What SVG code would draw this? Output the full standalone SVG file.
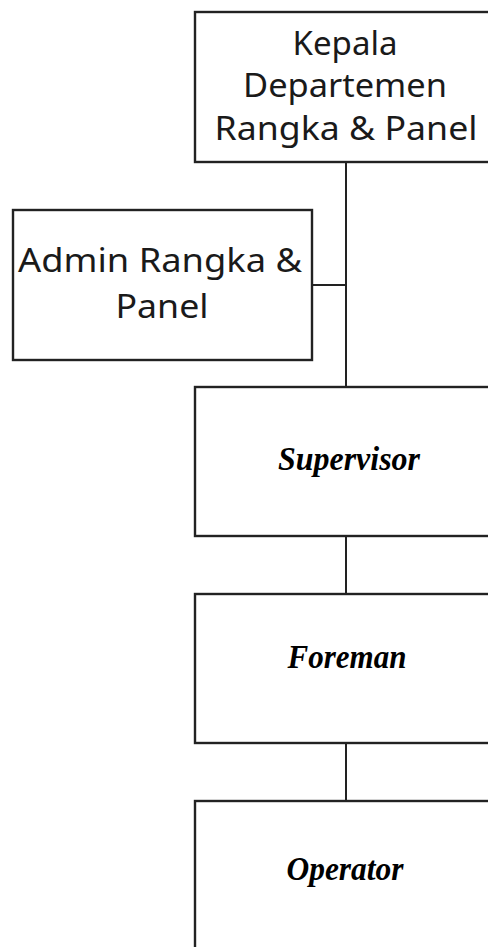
<svg xmlns="http://www.w3.org/2000/svg" width="488" height="947" viewBox="0 0 488 947">
  <style>
    .box { fill: #ffffff; stroke: #222222; stroke-width: 2.4; }
    .link { fill: none; stroke: #222222; stroke-width: 2; }
    .sans { font-family: "Noto Sans", "Open Sans", sans-serif; font-size: 33px; fill: #1a1a1a; text-anchor: middle; }
    .role { font-family: "Liberation Serif", serif; font-size: 33px; font-weight: bold; font-style: italic; fill: #000000; text-anchor: middle; }
  </style>
  <rect width="488" height="947" fill="#ffffff"/>

  <!-- connectors -->
  <g id="connectors">
    <line class="link" x1="346" y1="162" x2="346" y2="387"/>
    <line class="link" x1="312" y1="285" x2="346" y2="285"/>
    <line class="link" x1="346" y1="536" x2="346" y2="594"/>
    <line class="link" x1="346" y1="743" x2="346" y2="801"/>
  </g>

  <!-- head of department -->
  <g id="kepala">
    <rect class="box" x="195" y="12" width="320" height="150"/>
    <text class="sans" x="345" y="55" textLength="105" lengthAdjust="spacingAndGlyphs">Kepala</text>
    <text class="sans" x="345" y="97" textLength="204" lengthAdjust="spacingAndGlyphs">Departemen</text>
    <text class="sans" x="346" y="140" textLength="263" lengthAdjust="spacingAndGlyphs">Rangka &amp; Panel</text>
  </g>

  <!-- admin -->
  <g id="admin">
    <rect class="box" x="13" y="210" width="299" height="150"/>
    <text class="sans" x="160" y="272" textLength="284" lengthAdjust="spacingAndGlyphs">Admin Rangka &amp;</text>
    <text class="sans" x="162" y="318" textLength="93" lengthAdjust="spacingAndGlyphs">Panel</text>
  </g>

  <!-- supervisor -->
  <g id="supervisor">
    <rect class="box" x="195" y="387" width="320" height="149"/>
    <text class="role" x="349" y="470" textLength="142" lengthAdjust="spacingAndGlyphs">Supervisor</text>
  </g>

  <!-- foreman -->
  <g id="foreman">
    <rect class="box" x="195" y="594" width="320" height="149"/>
    <text class="role" x="347" y="668" textLength="119" lengthAdjust="spacingAndGlyphs">Foreman</text>
  </g>

  <!-- operator -->
  <g id="operator">
    <rect class="box" x="195" y="801" width="320" height="160"/>
    <text class="role" x="345" y="880" textLength="117" lengthAdjust="spacingAndGlyphs">Operator</text>
  </g>
</svg>
